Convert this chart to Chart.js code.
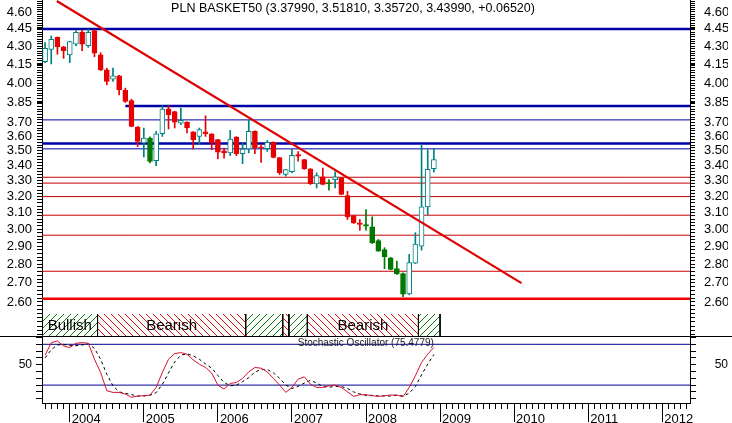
<!DOCTYPE html>
<html>
<head>
<meta charset="utf-8">
<title>PLN BASKET50</title>
<script src="https://cdn.jsdelivr.net/npm/chart.js@4.4.1/dist/chart.umd.min.js"></script>
<style>
  html, body { margin: 0; padding: 0; background: #fff; }
  #chart { display: block; }
</style>
</head>
<body>
<canvas id="chart" width="732" height="423"></canvas>
<script>
// monthly bars, Sep 2003 .. Dec 2008 ; x = months counted from Jan 2004
const firstMonth = -4;

const opens = [4.172, 4.274, 4.376, 4.296, 4.227, 4.317, 4.420, 4.305, 4.434, 4.227, 4.105, 4.031, 4.057, 3.942, 3.865, 3.668,
  3.555, 3.590, 3.433, 3.621, 3.802, 3.782, 3.697, 3.704, 3.633, 3.601, 3.633, 3.619, 3.578, 3.501, 3.486, 3.597,
  3.481, 3.513, 3.637, 3.527, 3.515, 3.561, 3.455, 3.341, 3.360, 3.474, 3.440, 3.378, 3.280, 3.326, 3.287, 3.308,
  3.319, 3.205, 3.082, 3.038, 3.028, 3.014, 2.934, 2.883, 2.836, 2.776, 2.749, 2.642, 2.806, 2.902, 3.135, 3.3799];
const highs = [4.331, 4.388, 4.380, 4.300, 4.342, 4.434, 4.440, 4.446, 4.440, 4.246, 4.119, 4.119, 4.060, 3.960, 3.875, 3.673,
  3.661, 3.598, 3.637, 3.825, 3.825, 3.784, 3.808, 3.706, 3.635, 3.661, 3.750, 3.621, 3.580, 3.520, 3.644, 3.600,
  3.555, 3.721, 3.640, 3.543, 3.573, 3.563, 3.456, 3.375, 3.513, 3.495, 3.442, 3.380, 3.352, 3.384, 3.308, 3.358,
  3.322, 3.232, 3.083, 3.058, 3.118, 3.074, 2.940, 2.893, 2.838, 2.818, 2.754, 2.855, 2.980, 3.543, 3.508, 3.5181];
const lows = [4.164, 4.153, 4.233, 4.199, 4.164, 4.302, 4.263, 4.291, 4.213, 4.099, 3.986, 4.012, 3.908, 3.850, 3.670, 3.530,
  3.458, 3.418, 3.400, 3.601, 3.654, 3.661, 3.685, 3.626, 3.513, 3.543, 3.601, 3.508, 3.445, 3.451, 3.467, 3.467,
  3.413, 3.486, 3.481, 3.422, 3.496, 3.452, 3.341, 3.330, 3.352, 3.430, 3.375, 3.276, 3.254, 3.274, 3.239, 3.254,
  3.210, 3.058, 3.034, 2.994, 2.994, 2.917, 2.872, 2.776, 2.770, 2.745, 2.627, 2.637, 2.804, 2.879, 3.088, 3.3572];
const closes = [4.283, 4.359, 4.296, 4.263, 4.339, 4.420, 4.317, 4.420, 4.241, 4.105, 4.012, 4.057, 3.947, 3.857, 3.673, 3.566,
  3.590, 3.429, 3.619, 3.800, 3.758, 3.704, 3.716, 3.661, 3.578, 3.649, 3.619, 3.555, 3.492, 3.486, 3.583, 3.479,
  3.513, 3.637, 3.522, 3.520, 3.559, 3.455, 3.352, 3.373, 3.470, 3.463, 3.378, 3.282, 3.334, 3.276, 3.282, 3.326,
  3.212, 3.074, 3.038, 3.028, 3.018, 2.921, 2.873, 2.842, 2.772, 2.748, 2.640, 2.809, 2.913, 3.135, 3.375, 3.4399];
// bars the source paints solid green
const greenBars = [13, 42, 48, 49, 50, 51, 52, 53, 54];

const stochK = [63.9, 82.4, 84.9, 77.6, 75.1, 81.5, 82.4, 81.5, 58, 38.5, 11.7, 9.3, 9.3, 6.8, 2, 3.9,
  4.4, 5.4, 16.6, 38.5, 58, 66.3, 67.8, 65.4, 57.1, 50.7, 45.9, 37.6, 20, 14.1, 22.4, 23.9,
  29.8, 39.5, 45.9, 44.9, 39.5, 29.8, 20, 9.3, 16.6, 28.8, 32.2, 21.5, 16.6, 16.6, 19, 20,
  16.6, 10.2, 3.4, 5.9, 5.9, 4.4, 3.4, 4.4, 5.4, 5.4, 2.9, 16.6, 33.7, 53.2, 65.4, 75.48];
const stochD = [60, 72, 79, 80, 78, 78, 79, 81, 74, 58, 36, 19, 10, 8, 6, 4,
  4, 5, 9, 21, 38, 54, 64, 66, 63, 58, 51, 45, 34, 24, 19, 20,
  25, 31, 39, 43, 43, 38, 30, 20, 15, 18, 23, 27, 23, 18, 17, 18,
  18, 15, 10, 7, 5, 5, 4, 4, 4, 5, 4, 8, 18, 35, 51, 65];
const stochLevels = [80, 20];

// support / resistance
const blueHeavy = [4.449, 3.824, 3.551];
const blueHeavyFrom = [-4.5, 9, -4.5];
const blueLight = [3.720, 3.514];
const redLight = [3.323, 3.285, 3.199, 3.084, 2.965, 2.762];
const redHeavy = [2.617];
const trendX = [-2.1, 73.2];
const trendY = [4.70, 2.698];

// trend state strip
const bandStart = [-4.5, 4.5, 28.5, 34.5, 35.5, 38.5, 56.5];
const bandEnd = [4.5, 28.5, 34.5, 35.5, 38.5, 56.5, 60];
const bandKind = ['Bullish', 'Bearish', 'Bullish', 'Bearish', 'Bullish', 'Bearish', 'Bullish'];

const yearLabels = ['2004', '2005', '2006', '2007', '2008', '2009', '2010', '2011', '2012'];
const priceLabels = [4.60, 4.45, 4.30, 4.15, 4.00, 3.85, 3.70, 3.60, 3.50, 3.40, 3.30, 3.20, 3.10, 3.00, 2.90, 2.80, 2.70, 2.60];

const titleText = 'PLN BASKET50 (3.37990, 3.51810, 3.35720, 3.43990, +0.06520)';
const stochText = 'Stochastic Oscillator (75.4779)';

//==============================================================
const X_MIN = -4.5, X_MAX = 100.5;
const PRICE_MIN = 2.4317, PRICE_MAX = 4.7096, BAND_TOP = 2.539;
const STOCH_MIN = -6.3, STOCH_MAX = 92.2;
const FONT = '"Liberation Sans", Arial, sans-serif';

const canvas = document.getElementById('chart');
const ctx = canvas.getContext('2d');

function hatch(color, forward) {
  const c = document.createElement('canvas');
  c.width = 7; c.height = 7;
  const g = c.getContext('2d');
  g.strokeStyle = color;
  g.lineWidth = 1;
  g.beginPath();
  if (forward) {
    g.moveTo(0, 7); g.lineTo(7, 0);
    g.moveTo(-1, 1); g.lineTo(1, -1);
    g.moveTo(6, 8); g.lineTo(8, 6);
  } else {
    g.moveTo(0, 0); g.lineTo(7, 7);
    g.moveTo(-1, 6); g.lineTo(1, 8);
    g.moveTo(6, -1); g.lineTo(8, 1);
  }
  g.stroke();
  return ctx.createPattern(c, 'repeat');
}
const hatchFor = { Bullish: hatch('#0a7a0a', true), Bearish: hatch('#e01010', false) };

const monthX = (i) => firstMonth + i;
const tone = (i) => greenBars.includes(monthX(i)) ? 'green' : (closes[i] >= opens[i] ? 'up' : 'down');
const toneFill = { up: '#ffffff', down: '#e60000', green: '#007800' };
const toneEdge = { up: '#008080', down: '#e60000', green: '#007800' };
const tones = opens.map((o, i) => tone(i));

function flatLine(value, from, color, width, axis) {
  return {
    type: 'line', xAxisID: 'x', yAxisID: axis || 'yPrice',
    data: [{ x: from, y: value }, { x: X_MAX, y: value }],
    borderColor: color, borderWidth: width, pointRadius: 0, fill: false, order: 5
  };
}

const datasets = [];

bandStart.forEach((s, i) => {
  datasets.push({
    type: 'line', xAxisID: 'x', yAxisID: 'yPrice',
    data: [{ x: s, y: PRICE_MIN }, { x: s, y: BAND_TOP }, { x: bandEnd[i], y: BAND_TOP }, { x: bandEnd[i], y: PRICE_MIN }],
    borderColor: '#000', borderWidth: 1, pointRadius: 0,
    backgroundColor: hatchFor[bandKind[i]], fill: 'start', order: 6,
    segment: { borderColor: (c) => c.p0DataIndex === 1 ? 'rgba(0,0,0,0)' : '#000' }
  });
});

blueHeavy.forEach((v, i) => datasets.push(flatLine(v, blueHeavyFrom[i], '#0000a8', 2.5)));
blueLight.forEach((v) => datasets.push(flatLine(v, X_MIN, '#0000a8', 1)));
redLight.forEach((v) => datasets.push(flatLine(v, X_MIN, '#c80000', 1)));
redHeavy.forEach((v) => datasets.push(flatLine(v, X_MIN, '#ee0000', 2.5)));
stochLevels.forEach((v) => datasets.push(flatLine(v, X_MIN, '#000090', 1, 'yStoch')));

datasets.push({
  type: 'bar', label: 'wick', xAxisID: 'x', yAxisID: 'yPrice',
  data: lows.map((l, i) => ({ x: monthX(i), y: [l, highs[i]] })),
  backgroundColor: tones.map((t) => toneEdge[t]),
  borderWidth: 0, barThickness: 1, grouped: false, order: 4
});
datasets.push({
  type: 'bar', label: 'body', xAxisID: 'x', yAxisID: 'yPrice',
  data: opens.map((o, i) => ({ x: monthX(i), y: [o, closes[i]] })),
  backgroundColor: tones.map((t) => toneFill[t]),
  borderColor: tones.map((t) => toneEdge[t]),
  borderWidth: 1, borderSkipped: false, barThickness: 5, grouped: false, order: 3
});

datasets.push({
  type: 'line', xAxisID: 'x', yAxisID: 'yPrice',
  data: trendX.map((x, i) => ({ x: x, y: trendY[i] })),
  borderColor: '#e00000', borderWidth: 2.2, pointRadius: 0, fill: false, order: 1
});

datasets.push({
  type: 'line', xAxisID: 'x', yAxisID: 'yStoch',
  data: stochD.map((v, i) => ({ x: monthX(i), y: v })),
  borderColor: '#000', borderWidth: 1, borderDash: [3, 3], pointRadius: 0, fill: false, order: 2
});
datasets.push({
  type: 'line', xAxisID: 'x', yAxisID: 'yStoch',
  data: stochK.map((v, i) => ({ x: monthX(i), y: v })),
  borderColor: '#d81030', borderWidth: 1, pointRadius: 0, fill: false, order: 1
});

// tick positions
const monthTicks = [];
for (let m = -4; m <= 100; m++) monthTicks.push({ value: m });
const priceTicks = [];
for (let k = 244; k <= 470; k += 2) priceTicks.push(k / 100);
priceLabels.forEach((v) => { if (!priceTicks.some((t) => Math.abs(t - v) < 1e-6)) priceTicks.push(v); });
priceTicks.sort((a, b) => a - b);
const stochTicks = [];
for (let s = 0; s <= 90; s += 10) stochTicks.push({ value: s });

const priceLabel = (v) => priceLabels.some((p) => Math.abs(p - v) < 1e-6) ? v.toFixed(2) : '';
const tickFont = { family: FONT, size: 13 };

function noPad(s) {
  s.paddingTop = 0; s.paddingBottom = 0; s.paddingLeft = 0; s.paddingRight = 0;
}
function pinRange(min, max) {
  return (s) => { s.min = min; s.max = max; };
}

function priceAxis(position, stack, weight, width, padding) {
  return {
    type: 'logarithmic', position: position, stack: stack, stackWeight: 336, weight: weight,
    min: PRICE_MIN, max: PRICE_MAX, beginAtZero: false, bounds: 'data',
    afterDataLimits: pinRange(PRICE_MIN, PRICE_MAX),
    afterBuildTicks: (s) => { s.ticks = priceTicks.map((v) => ({ value: v })); s.min = PRICE_MIN; s.max = PRICE_MAX; },
    afterFit: (s) => { s.width = width; noPad(s); },
    grid: { drawOnChartArea: false, tickLength: 5, tickColor: '#000' },
    border: { color: '#000' },
    ticks: { autoSkip: false, padding: padding, color: '#000', font: tickFont, callback: (v) => priceLabel(v) }
  };
}
function stochAxis(position, stack, weight, width, padding, crossAlign) {
  return {
    type: 'linear', position: position, stack: stack, stackWeight: 67, weight: weight,
    min: STOCH_MIN, max: STOCH_MAX, beginAtZero: false, bounds: 'data',
    afterBuildTicks: (s) => { s.ticks = stochTicks.map((t) => ({ value: t.value })); s.min = STOCH_MIN; s.max = STOCH_MAX; },
    afterFit: (s) => { s.width = width; noPad(s); },
    grid: { drawOnChartArea: false, tickLength: 6, tickColor: '#000' },
    border: { color: '#000' },
    ticks: { autoSkip: false, padding: padding, crossAlign: crossAlign, color: '#000',
      font: { family: FONT, size: 12 }, callback: (v) => v === 50 ? '50' : '' }
  };
}

const decorations = {
  id: 'decorations',
  beforeDraw(chart) {
    const c = chart.ctx;
    c.save();
    c.fillStyle = '#fff';
    c.fillRect(0, 0, chart.width, chart.height);
    c.restore();
  },
  afterDatasetsDraw(chart) {
    const c = chart.ctx;
    const xs = chart.scales.x, yp = chart.scales.yPrice, ys = chart.scales.yStoch;
    c.save();
    // strip labels
    c.fillStyle = '#000';
    c.textAlign = 'center';
    c.textBaseline = 'middle';
    c.font = '15px ' + FONT;
    const bandMid = (yp.getPixelForValue(BAND_TOP) + yp.getPixelForValue(PRICE_MIN)) / 2;
    bandStart.forEach((s, i) => {
      const x0 = xs.getPixelForValue(s), x1 = xs.getPixelForValue(bandEnd[i]);
      if (x1 - x0 > 45) c.fillText(bandKind[i], (x0 + x1) / 2, bandMid + 1);
    });
    // panel divider
    c.strokeStyle = '#000';
    c.lineWidth = 1;
    c.beginPath();
    c.moveTo(0, Math.round(yp.bottom) + 0.5);
    c.lineTo(chart.width, Math.round(yp.bottom) + 0.5);
    c.stroke();
    // title
    c.font = '12.5px ' + FONT;
    c.fillText(titleText, chart.chartArea.left + 311, 9);
    // oscillator caption
    c.font = '10px ' + FONT;
    c.fillStyle = '#202020';
    c.textAlign = 'right';
    c.fillText(stochText, xs.getPixelForValue(monthX(stochK.length - 1)), ys.getPixelForValue(80) - 1);
    c.restore();
  }
};

new Chart(canvas, {
  type: 'bar',
  data: { datasets: datasets },
  options: {
    responsive: false,
    animation: false,
    events: [],
    layout: { autoPadding: false, padding: { left: 0, right: 4, top: 0, bottom: 0 } },
    plugins: { legend: { display: false }, tooltip: { enabled: false }, title: { display: false } },
    scales: {
      x: {
        type: 'linear', position: 'bottom', min: X_MIN, max: X_MAX, offset: false, weight: 0, bounds: 'data',
        afterBuildTicks: (s) => { s.ticks = monthTicks.map((t) => ({ value: t.value })); },
        afterFit: (s) => { s.height = 6; noPad(s); },
        grid: { drawOnChartArea: false, tickLength: 6, tickColor: '#000', offset: false },
        border: { color: '#000' },
        ticks: { display: false }
      },
      xYear: {
        type: 'linear', position: 'bottom', min: X_MIN, max: X_MAX, offset: false, weight: 1, bounds: 'data',
        afterBuildTicks: (s) => { s.ticks = yearLabels.map((y, i) => ({ value: i * 12 })); },
        afterFit: (s) => { s.height = 14; noPad(s); },
        grid: { drawOnChartArea: false, tickLength: 13, tickColor: '#000', offset: false },
        border: { display: false },
        ticks: { align: 'start', padding: -10, labelOffset: 2, autoSkip: false, maxRotation: 0,
          color: '#000', font: tickFont, callback: (v, i) => yearLabels[i] }
      },
      yPrice: priceAxis('left', 'L', 1, 42, 5),
      yStoch: stochAxis('left', 'L', 0, 42, 4, 'near'),
      yPriceR: priceAxis('right', 'R', 0, 38, 9),
      yStochR: stochAxis('right', 'R', 1, 38, 4, 'far')
    }
  },
  plugins: [decorations]
});
</script>
</body>
</html>
